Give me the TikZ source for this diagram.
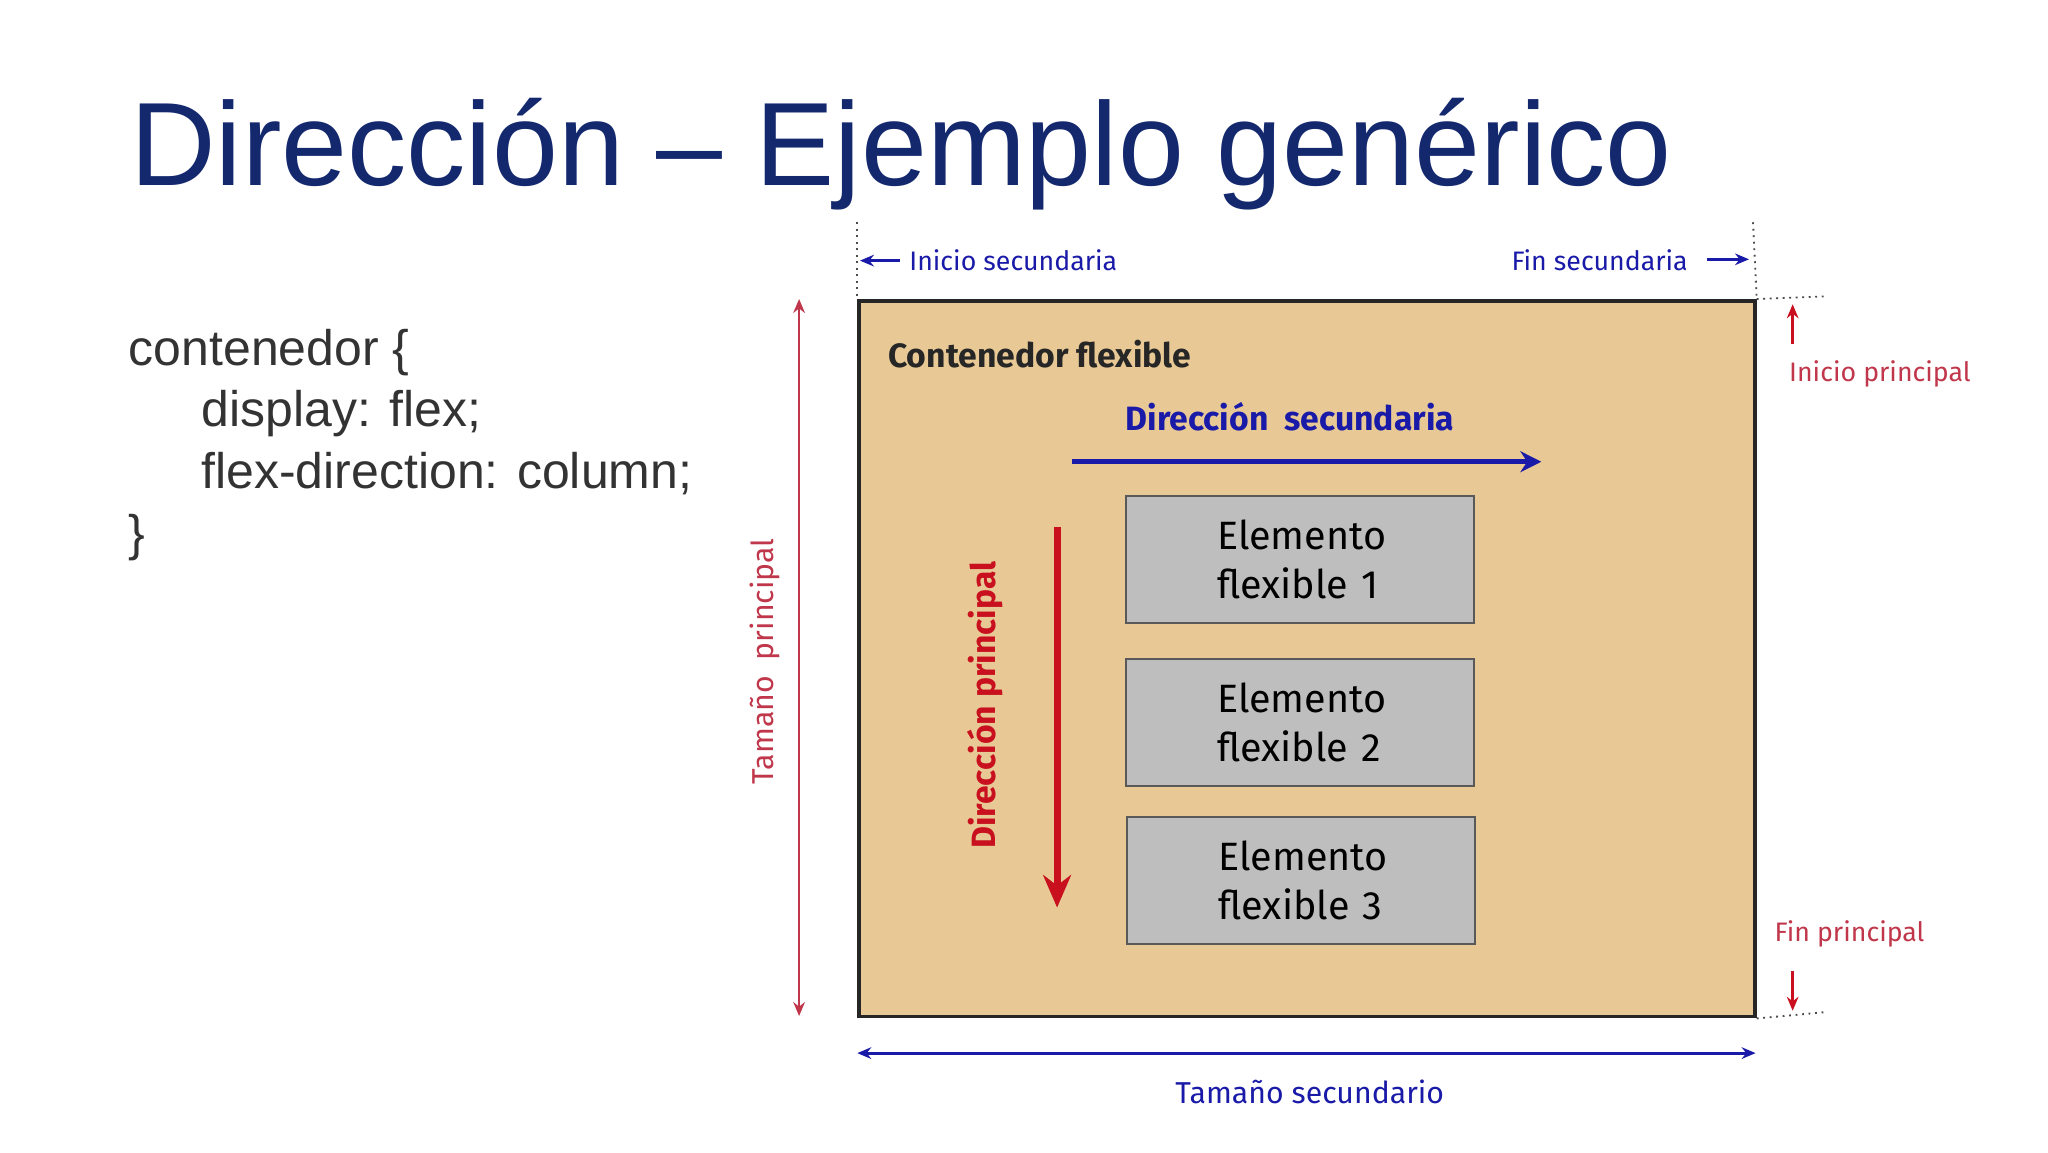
\documentclass[tikz,border=0pt]{standalone}
\usepackage{fontspec}
\setmainfont{Liberation Sans}
\newfontfamily\lbl{Fira Sans}
\usetikzlibrary{arrows.meta}
\definecolor{navy}{HTML}{14286E}
\definecolor{code}{HTML}{333333}
\definecolor{tan}{HTML}{E8C995}
\definecolor{bx}{HTML}{BEBEBE}
\definecolor{dblue}{HTML}{1A1AA8}
\definecolor{dred}{HTML}{C8101E}
\definecolor{lred}{HTML}{C0364A}
\tikzset{
 lab/.style={font=\lbl\fontsize{11.5}{13}\selectfont, inner sep=0pt},
 boldlab/.style={font=\lbl\bfseries\fontsize{14.5}{16}\selectfont, inner sep=0pt},
 item/.style={draw=black!65, line width=0.9pt, fill=bx, align=left, font=\lbl\fontsize{17}{21}\selectfont, inner sep=0pt},
 codet/.style={font=\fontsize{21.5}{26}\selectfont, text=code, anchor=base west, inner sep=0pt},
 dots/.style={dotted, line width=0.8pt, black!70},
}
\begin{document}
\begin{tikzpicture}[x=0.02cm,y=-0.02cm]
\useasboundingbox (0,0) rectangle (1548,871);
\node[font=\fontsize{51}{60}\selectfont, text=navy, anchor=base west, inner sep=0pt] (title) at (98,140) {Dirección – Ejemplo genérico};
\node[codet] (c1) at (97,276) {contenedor \{};
\node[codet] (c2) at (152,322) {display: flex;};
\node[codet] (c3) at (152,369) {flex-direction: column;};
\node[codet] (c4) at (97,416) {\}};
% container
\node[draw=black!85, line width=1.6pt, fill=tan, minimum width=677*0.02cm, minimum height=541*0.02cm, inner sep=0pt, anchor=north west] (cont) at (648,226) {};
\node[boldlab, anchor=west, text=black!85] (ctitle) at (671,268) {Contenedor flexible};
\node[boldlab, text=dblue] (dsec) at (975,315) {Dirección\ \ secundaria};
\coordinate (bs) at (810,349); \coordinate (be) at (1165,349);
\draw[dblue, line width=2pt, -{Stealth[length=9pt,width=9pt]}] (bs) -- (be);
\node[item, minimum width=263*0.02cm, minimum height=96*0.02cm, text width=125*0.02cm] (e1) at (982.5,423) {Elemento\\flexible 1};
\node[item, minimum width=263*0.02cm, minimum height=96*0.02cm, text width=125*0.02cm] (e2) at (982.5,546) {Elemento\\flexible 2};
\node[item, minimum width=263*0.02cm, minimum height=96*0.02cm, text width=125*0.02cm] (e3) at (983.5,665.5) {Elemento\\flexible 3};
\coordinate (rs) at (799,398); \coordinate (re) at (799,686);
\draw[dred, line width=3pt, -{Stealth[length=14pt,width=12pt]}] (rs) -- (re);
\node[boldlab, text=dred, rotate=90] (dpri) at (745,533) {Dirección principal};
% tamaño principal
\coordinate (tp1) at (604,226); \coordinate (tp2) at (604,768);
\draw[lred, line width=1pt, {Stealth[length=6pt,width=5pt]}-{Stealth[length=6pt,width=5pt]}] (tp1) -- (tp2);
\node[lab, text=lred, rotate=90, font=\lbl\fontsize{13}{15}\selectfont] (tpl) at (578,500) {Tamaño\ \ principal};
% secundaria top
\coordinate (d1a) at (648,168); \coordinate (d2a) at (1325,168);
\draw[dots] (d1a) -- (cont.north west);
\draw[dots] (d2a) -- (cont.north east);
\coordinate (is1) at (680,197); \coordinate (is2) at (650,197);
\draw[dblue, line width=1.2pt, -{Stealth[length=6pt,width=5pt]}] (is1) -- (is2);
\node[lab, text=dblue, anchor=west] (isl) at (687,197) {Inicio secundaria};
\node[lab, text=dblue, anchor=east] (fsl) at (1276,197) {Fin secundaria};
\coordinate (fs1) at (1290,196); \coordinate (fs2) at (1322,196);
\draw[dblue, line width=1.2pt, -{Stealth[length=6pt,width=5pt]}] (fs1) -- (fs2);
% principal right
\coordinate (hd1) at (1380,224); \coordinate (hd2) at (1380,765);
\draw[dots] (cont.north east) -- (hd1);
\draw[dots] (cont.south east) -- (hd2);
\coordinate (ip1) at (1355,260); \coordinate (ip2) at (1355,230);
\draw[dred, line width=1.4pt, -{Stealth[length=6pt,width=5pt]}] (ip1) -- (ip2);
\node[lab, text=lred, anchor=west] (ipl) at (1352,283) {Inicio principal};
\node[lab, text=lred, anchor=west] (fpl) at (1341,706) {Fin principal};
\coordinate (fp1) at (1355,734); \coordinate (fp2) at (1355,764);
\draw[dred, line width=1.4pt, -{Stealth[length=6pt,width=5pt]}] (fp1) -- (fp2);
% tamaño secundario
\coordinate (ts1) at (648,796); \coordinate (ts2) at (1327,796);
\draw[dblue, line width=1.2pt, {Stealth[length=6pt,width=5pt]}-{Stealth[length=6pt,width=5pt]}] (ts1) -- (ts2);
\node[lab, text=dblue, font=\lbl\fontsize{13}{15}\selectfont] (tsl) at (990,825) {Tamaño secundario};
\end{tikzpicture}
\end{document}
